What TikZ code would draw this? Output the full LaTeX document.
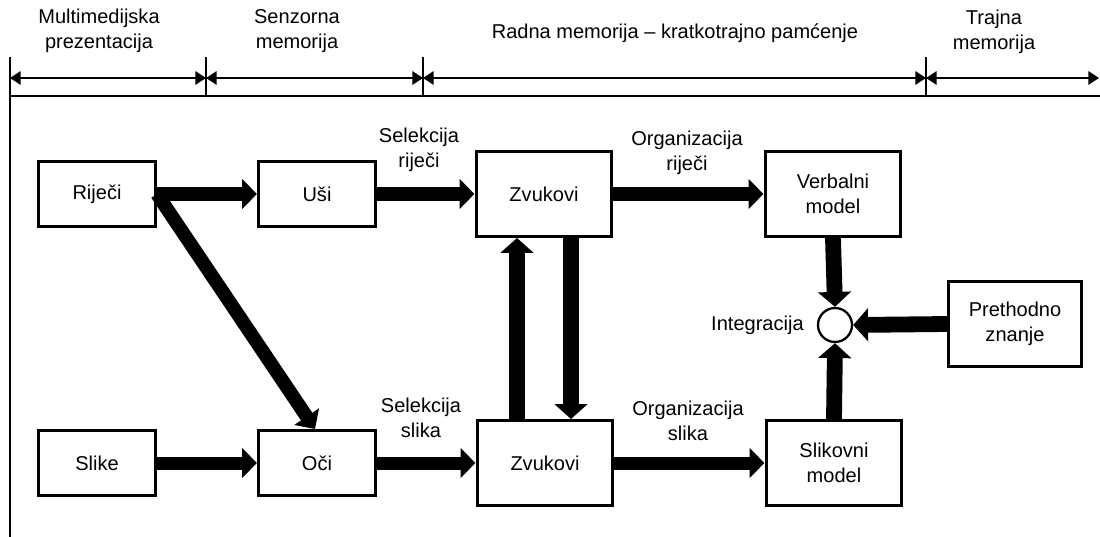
\documentclass[tikz,border=0pt]{standalone}
\usepackage{fontspec}
\setmainfont{Liberation Sans}
\usetikzlibrary{arrows.meta}

\tikzset{
	kutija/.style={draw, line width=1.7pt, minimum width=2.34cm, minimum height=1.3cm, align=center, inner sep=0pt},
	velika/.style={kutija, minimum width=2.72cm, minimum height=1.7cm},
	tok/.style={line width=7.4pt, -{Triangle[length=8.5pt,width=16.5pt]}},
	tokdeb/.style={line width=9pt, -{Triangle[length=8.5pt,width=18.5pt]}},
	mjera/.style={line width=1.2pt, {Triangle[length=6pt,width=7.5pt]}-{Triangle[length=6pt,width=7.5pt]}},
	natpis/.style={align=center, inner sep=0pt}
}

\begin{document}
\begin{tikzpicture}[x=0.02cm, y=-0.02cm, font=\fontsize{11.4}{14}\selectfont]
			%%%%% START %%%%%
			\useasboundingbox (0, 0) rectangle (1100, 537);
			
			% zaglavlje
			\node[natpis] (multi) at (99, 31) {Multimedijska\\prezentacija};
			\node[natpis] (senz) at (297, 31) {Senzorna\\memorija};
			\node[natpis] (radna) at (675, 33) {Radna memorija -- kratkotrajno pamćenje};
			\node[natpis] (trajna) at (994, 32) {Trajna\\memorija};
			
			\coordinate (k0) at (10, 78);
			\coordinate (k1) at (206, 78);
			\coordinate (k2) at (423, 78);
			\coordinate (k3) at (926, 78);
			\coordinate (k4) at (1099, 78);
			
			\draw[line width=1.4pt] (10, 57) -- (10, 537);
			\draw[line width=1.4pt] (10, 96) -- (1100, 96);
			\foreach \k in {k1, k2, k3}
				\draw[line width=1.4pt] ([yshift=0.42cm]\k) -- ([yshift=-0.36cm]\k);
			
			\draw[mjera] (k0) -- (k1);
			\draw[mjera] (k1) -- (k2);
			\draw[mjera] (k2) -- (k3);
			\draw[mjera] (k3) -- (k4);
			
			% kutije
			\node[kutija] (rijeci) at (97, 194) {Riječi};
			\node[kutija] (usi) at (317, 194) {Uši};
			\node[velika] (zvuk1) at (544, 194) {Zvukovi};
			\node[velika] (verbal) at (833, 194) {Verbalni\\model};
			
			\node[kutija] (slike) at (97, 463) {Slike};
			\node[kutija] (oci) at (317, 463) {Oči};
			\node[velika] (zvuk2) at (545, 463) {Zvukovi};
			\node[velika] (slikov) at (834, 463) {Slikovni\\model};
			
			\node[velika, minimum width=2.66cm] (znanje) at (1015, 324) {Prethodno\\znanje};
			\node[draw, circle, line width=1.3pt, minimum size=0.68cm, inner sep=0pt] (integ) at (835, 325) {};
			\node[natpis, anchor=east] (integtxt) at (804, 325) {Integracija};
			
			% natpisi strelica
			\node[natpis] (selrij) at (419, 150) {Selekcija\\riječi};
			\node[natpis] (selsli) at (421, 418) {Selekcija\\slika};
			\node[natpis] (orgrij) at (687, 153) {Organizacija\\riječi};
			\node[natpis] (orgsli) at (688, 421) {Organizacija\\slika};
			
			% strelice
			\draw[tok] (rijeci.east) -- (usi.west);
			\draw[tok] (usi.east) -- (usi.east -| zvuk1.west);
			\draw[tok] (zvuk1.east) -- (verbal.west);
			\draw[tok, line width=7.8pt] (rijeci.east) -- ([xshift=-0.04cm]oci.north);
			
			\draw[tok] (slike.east) -- (oci.west);
			\draw[tok] (oci.east) -- (oci.east -| zvuk2.west);
			\draw[tok] (zvuk2.east) -- (slikov.west);
			
			\draw[tokdeb] ([xshift=-0.56cm]zvuk2.north) -- ([xshift=-0.54cm]zvuk1.south);
			\draw[tokdeb] ([xshift=0.54cm]zvuk1.south) -- ([xshift=0.52cm]zvuk2.north);
			
			\draw[tokdeb] (verbal.south) -- (integ.north);
			\draw[tokdeb] (slikov.north) -- (integ.south);
			\draw[tokdeb] (znanje.west) -- (integ.east);
			
			%%%%% END %%%%%
\end{tikzpicture}
\end{document}
